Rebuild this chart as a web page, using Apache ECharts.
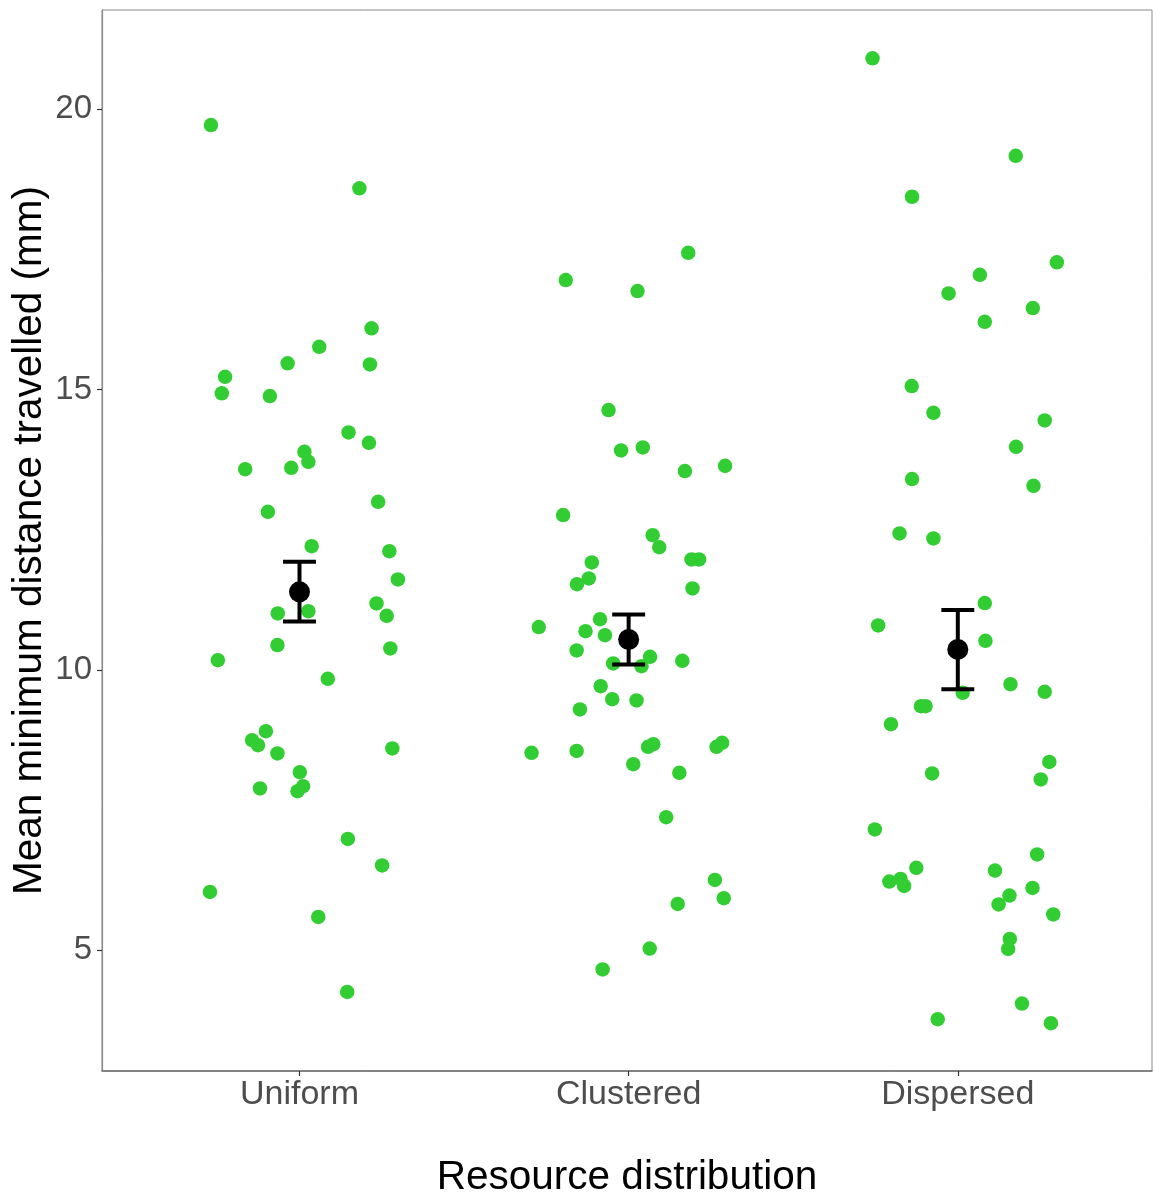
<!DOCTYPE html>
<html>
<head>
<meta charset="utf-8">
<script src="https://cdn.jsdelivr.net/npm/echarts@6/dist/echarts.min.js"></script>
<style>
html,body{margin:0;padding:0;background:#fff;}
#chart{width:1153px;height:1193px;}
</style>
</head>
<body>
<div id="chart"></div>
<script>
// ---- data ----
const categories = ['Uniform', 'Clustered', 'Dispersed'];
const yTickValues = [5, 10, 15, 20];
const xTickValues = [1, 2, 3];

const uniformX = [0.731,1.182,1.219,1.060,0.964,1.214,0.774,0.764,0.910,1.149,1.211,1.015,1.027,0.835,0.975,1.239,0.904,1.037,1.273,1.299,1.234,1.265,0.934,1.027,0.933,1.276,0.752,1.086,0.898,0.856,0.874,0.933,1.282,1.001,0.880,1.011,0.994,1.147,1.251,0.728,1.057,1.145];
const uniformY = [19.715,18.586,16.089,15.761,15.465,15.447,15.226,14.930,14.881,14.234,14.049,13.888,13.710,13.579,13.603,12.996,12.818,12.206,12.117,11.612,11.184,10.963,11.006,11.047,10.441,10.382,10.173,9.840,8.907,8.746,8.657,8.509,8.598,8.175,7.885,7.926,7.837,6.986,6.512,6.041,5.595,4.257];

const clusteredX = [2.181,1.809,2.027,1.939,1.977,2.043,2.171,2.293,1.801,2.073,2.093,2.191,2.214,1.888,1.879,1.843,2.194,1.727,1.913,1.869,1.928,1.842,2.065,2.163,1.953,2.039,1.915,1.950,2.024,1.852,1.705,1.842,2.059,2.075,2.267,2.284,2.014,2.154,2.114,2.262,2.289,2.149,2.064,1.921];
const clusteredY = [17.437,16.950,16.754,14.632,13.913,13.966,13.544,13.638,12.759,12.402,12.188,11.969,11.969,11.915,11.630,11.528,11.452,10.762,10.904,10.690,10.619,10.346,10.232,10.161,10.114,10.066,9.709,9.477,9.454,9.294,8.520,8.555,8.627,8.675,8.627,8.698,8.318,8.163,7.373,6.255,5.928,5.827,5.031,4.657];

const dispersedX = [2.741,3.176,2.861,3.301,3.067,2.972,3.228,3.082,2.860,2.926,3.264,3.177,2.861,3.230,2.823,2.926,3.082,2.758,3.084,3.160,3.264,3.015,2.888,2.902,2.797,2.922,3.278,3.252,2.748,3.241,2.874,2.792,2.826,2.837,3.113,3.227,3.157,3.124,3.290,3.158,3.153,3.195,2.939,3.283];
const dispersedY = [20.904,19.167,18.436,17.266,17.045,16.713,16.451,16.207,15.060,14.584,14.448,13.977,13.401,13.282,12.433,12.343,11.190,10.792,10.517,9.745,9.608,9.590,9.353,9.353,9.032,8.152,8.359,8.045,7.154,6.708,6.469,6.226,6.272,6.148,6.422,6.112,5.976,5.816,5.638,5.202,5.024,4.050,3.770,3.699];

const meanValues = [11.391, 10.542, 10.364];
const ciLower = [10.863, 10.096, 9.656];
const ciUpper = [11.926, 10.988, 11.065];

// ---- build series data ----
function zip(xs, ys) { return xs.map((x, i) => [x, ys[i]]); }
const pointData = zip(uniformX, uniformY).concat(zip(clusteredX, clusteredY), zip(dispersedX, dispersedY));
const meanData = xTickValues.map((x, i) => [x, meanValues[i]]);
const barData = xTickValues.map((x, i) => [x, ciLower[i], ciUpper[i]]);

const FONT = "'Liberation Sans', Arial, sans-serif";
const chart = echarts.init(document.getElementById('chart'), null, {renderer: 'canvas'});

chart.setOption({
  backgroundColor: '#ffffff',
  animation: false,
  grid: {
    left: 102, right: 1, top: 10, bottom: 122,
    outerBoundsMode: 'none', containLabel: false,
    show: true, borderColor: '#8a8a8a', borderWidth: 1, backgroundColor: 'transparent'
  },
  xAxis: {
    type: 'value', min: 0.4, max: 3.59,
    name: 'Resource distribution', nameLocation: 'middle', nameGap: 107, nameMoveOverlap: false,
    nameTextStyle: {fontFamily: FONT, fontSize: 40.5, color: '#000', verticalAlign: 'middle'},
    splitLine: {show: false},
    axisLine: {show: true, onZero: false, lineStyle: {color: '#6e6e6e', width: 1.5}},
    axisTick: {show: true, length: 5, customValues: xTickValues, lineStyle: {color: '#333', width: 1.2}},
    axisLabel: {
      customValues: xTickValues, margin: 7,
      fontFamily: FONT, fontSize: 34, color: '#4d4d4d',
      formatter: v => categories[Math.round(v) - 1] || ''
    }
  },
  yAxis: {
    type: 'value', min: 2.847, max: 21.766,
    name: 'Mean minimum distance travelled (mm)', nameLocation: 'middle', nameGap: 72, nameRotate: 90, nameMoveOverlap: false,
    nameTextStyle: {fontFamily: FONT, fontSize: 40.5, color: '#000', verticalAlign: 'middle'},
    splitLine: {show: false},
    axisLine: {show: true, onZero: false, lineStyle: {color: '#8a8a8a', width: 1.2}},
    axisTick: {show: true, length: 5, customValues: yTickValues, lineStyle: {color: '#333', width: 1.2}},
    axisLabel: {
      customValues: yTickValues, margin: 10,
      fontFamily: FONT, fontSize: 33, color: '#4d4d4d'
    }
  },
  series: [
    {
      type: 'scatter', data: pointData, symbol: 'circle', symbolSize: 14.5,
      itemStyle: {color: '#32CD32', opacity: 1}, z: 2, silent: true
    },
    {
      type: 'custom', data: barData, z: 3, silent: true,
      renderItem: function (params, api) {
        const x = api.value(0), lo = api.value(1), hi = api.value(2);
        const top = api.coord([x, hi]);
        const bot = api.coord([x, lo]);
        const l = api.coord([x - 0.05, hi])[0];
        const r = api.coord([x + 0.05, hi])[0];
        const st = {stroke: '#000', lineWidth: 4};
        return {
          type: 'group',
          children: [
            {type: 'line', shape: {x1: top[0], y1: top[1], x2: bot[0], y2: bot[1]}, style: st},
            {type: 'line', shape: {x1: l, y1: top[1], x2: r, y2: top[1]}, style: st},
            {type: 'line', shape: {x1: l, y1: bot[1], x2: r, y2: bot[1]}, style: st}
          ]
        };
      },
      encode: {x: 0, y: [1, 2]}
    },
    {
      type: 'scatter', data: meanData, symbol: 'circle', symbolSize: 21,
      itemStyle: {color: '#000', opacity: 1}, z: 4, silent: true
    }
  ]
});
</script>
</body>
</html>
